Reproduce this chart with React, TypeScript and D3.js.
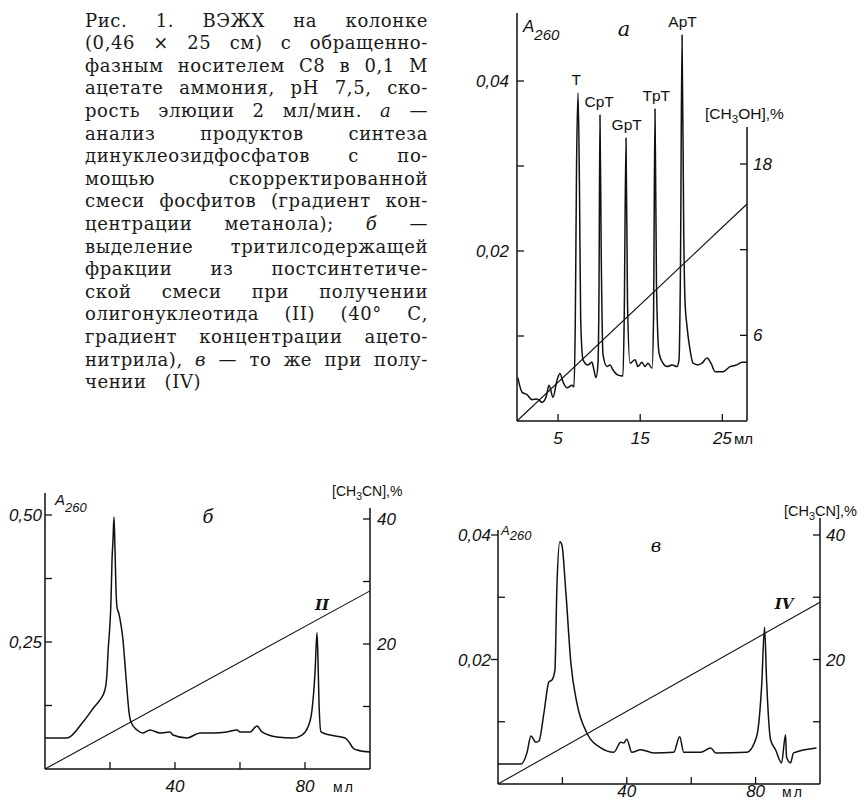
import React, { useEffect, useRef } from 'react';
import * as d3 from 'd3';

type P = [number, number];

// ---------------- caption ----------------
const captionLines: string[] = [
  'Рис. 1. ВЭЖХ на колонке',
  '(0,46 × 25 см) с обращенно-',
  'фазным носителем С8 в 0,1 М',
  'ацетате аммония, pH 7,5, ско-',
  'рость элюции 2 мл/мин. _а —',
  'анализ продуктов синтеза',
  'динуклеозидфосфатов с по-',
  'мощью скорректированной',
  'смеси фосфитов (градиент кон-',
  'центрации метанола); _б —',
  'выделение тритилсодержащей',
  'фракции из постсинтетиче-',
  'ской смеси при получении',
  'олигонуклеотида (II) (40° С,',
  'градиент концентрации ацето-',
  'нитрила), _в — то же при полу-',
  'чении (IV)',
];

// ---------------- chart а ----------------
const traceA: P[] = [
  [0.1, 0.0051], [0.61, 0.0034], [1.22, 0.0031], [1.83, 0.0025], [2.43, 0.0026], [3.04, 0.0022],
  [3.53, 0.0028], [3.9, 0.0042], [4.38, 0.0028], [4.87, 0.0048], [5.23, 0.0056], [5.6, 0.0046],
  [6.09, 0.0039], [6.7, 0.0042], [6.94, 0.004],
  [7.1, 0.012], [7.25, 0.03], [7.43, 0.0386], [7.6, 0.028], [7.75, 0.012], [8.04, 0.0072],
  [8.64, 0.0066], [9.13, 0.0069], [9.37, 0.006], [9.62, 0.0051], [9.86, 0.0068],
  [9.98, 0.015], [10.1, 0.036], [10.25, 0.02], [10.47, 0.0078],
  [10.96, 0.0064], [11.32, 0.0066], [11.69, 0.006], [12.3, 0.0054], [12.9, 0.0053],
  [13.05, 0.012], [13.27, 0.0333], [13.45, 0.014], [13.76, 0.0068],
  [14.37, 0.0072], [14.73, 0.0064], [15.22, 0.0069], [15.58, 0.0064], [15.95, 0.0068], [16.44, 0.0062],
  [16.62, 0.012], [16.8, 0.0367], [16.98, 0.016], [17.29, 0.008],
  [17.77, 0.0068], [18.26, 0.0064], [18.87, 0.0066], [19.48, 0.0064], [19.72, 0.0072],
  [19.9, 0.018], [20.09, 0.0454], [20.3, 0.022], [20.45, 0.0142], [20.7, 0.0111], [21.06, 0.0084],
  [21.43, 0.0068], [22.04, 0.0066], [22.52, 0.0068], [23.13, 0.0074], [23.62, 0.0068], [24.11, 0.0058],
  [25.08, 0.0058], [25.93, 0.0064], [26.78, 0.0066], [27.39, 0.0069], [28.0, 0.0069],
];
const gradientA: P[] = [[0, 0], [28, 15.2]];
const peakNamesA = ['T', 'CpT', 'GpT', 'TpT', 'ApT'];
const peakMlA = [7.2, 10.0, 13.35, 16.95, 20.15];
const peakHeightA = [0.0386, 0.036, 0.0333, 0.0367, 0.0454];
const xTicksA = [5, 15, 25];
const yTicksA = [0.01, 0.02, 0.03, 0.04];
const yLabelsA = [0.02, 0.04];
const y2TicksA = [6, 12, 18];
const y2LabelsA = [6, 18];

// ---------------- chart б ----------------
const traceB: P[] = [
  [0, 0.061], [6.77, 0.061], [11.69, 0.0925], [15.38, 0.124], [16.92, 0.136], [18.46, 0.156],
  [19.08, 0.189], [19.38, 0.228], [20.31, 0.333], [20.62, 0.411], [20.92, 0.451], [21.23, 0.496],
  [21.54, 0.431], [21.85, 0.352], [22.15, 0.319], [22.77, 0.305], [23.38, 0.284], [24.0, 0.254],
  [24.62, 0.205], [25.23, 0.156], [25.85, 0.112], [26.46, 0.0925], [28.31, 0.0768], [30.15, 0.0709],
  [32.31, 0.0768], [35.38, 0.0709], [38.46, 0.0729], [39.38, 0.0669], [43.69, 0.061], [47.69, 0.0709],
  [51.69, 0.0709], [56.0, 0.0729], [59.08, 0.0768], [60.0, 0.0729], [63.08, 0.0729], [65.23, 0.0847],
  [66.77, 0.0729], [71.38, 0.063], [76.31, 0.061], [79.08, 0.0669], [80.92, 0.0827], [82.15, 0.116],
  [83.08, 0.189], [83.69, 0.268], [84.0, 0.215], [84.31, 0.13], [84.92, 0.0729], [87.69, 0.0669],
  [92.31, 0.061], [93.54, 0.0532], [94.77, 0.0413], [96.0, 0.0374], [100, 0.0335],
];
const gradientB: P[] = [[0, 0], [100, 28.5]];
const xTicksB = [20, 40, 60, 80];
const xLabelsB = [40, 80];
const yTicksB = [0.125, 0.25, 0.375, 0.5];
const yLabelsB = [0.25, 0.5];
const y2TicksB = [10, 20, 30, 40];
const y2LabelsB = [20, 40];

// ---------------- chart в ----------------
const traceV: P[] = [
  [0, 0.0032], [7.13, 0.0032], [8.99, 0.005], [10.23, 0.0077], [11.78, 0.0067], [12.71, 0.0069],
  [14.26, 0.0114], [15.81, 0.0164], [16.74, 0.0167], [17.67, 0.0183], [18.29, 0.0316], [19.22, 0.0389],
  [19.84, 0.0384], [21.09, 0.0307], [22.64, 0.0194], [24.5, 0.013], [27.6, 0.0082], [31.94, 0.0058],
  [35.97, 0.0051], [38.14, 0.0067], [39.07, 0.0066], [40.0, 0.0072], [41.55, 0.0051], [44.34, 0.0055],
  [48.37, 0.005], [54.57, 0.0051], [56.43, 0.0076], [57.67, 0.0051], [62.95, 0.0051], [66.05, 0.0058],
  [67.6, 0.005], [77.21, 0.0051], [80.31, 0.0076], [81.86, 0.0156], [82.79, 0.0252], [83.41, 0.0167],
  [84.65, 0.0071], [86.2, 0.0055], [88.06, 0.0034], [89.3, 0.0079], [89.61, 0.0043], [90.85, 0.0034],
  [91.78, 0.005], [98.91, 0.0058],
];
const gradientV: P[] = [[0, 0], [100, 29.2]];
const xTicksV = [20, 40, 60, 80];
const xLabelsV = [40, 80];
const yTicksV = [0.01, 0.02, 0.03, 0.04];
const yLabelsV = [0.02, 0.04];
const y2TicksV = [10, 20, 30, 40];
const y2LabelsV = [20, 40];

const fmt = (v: number) => d3.format('.2f')(v).replace('.', ',');
const NUM_FONT = "'Liberation Sans', Arial, sans-serif";
const SERIF = "'DejaVu Serif', serif";

interface FrameProps {
  x: d3.ScaleLinear<number, number>;
  y: d3.ScaleLinear<number, number>;
  y2: d3.ScaleLinear<number, number>;
  yTop: number;
  y2Top: number;
  xTicks: number[];
  xLabels: number[];
  yTicks: number[];
  yLabels: number[];
  y2Ticks: number[];
  y2Labels: number[];
  trace: P[];
  gradient: P[];
  yLabelGap: number;
  y2LabelGap: number;
  xLabelBase: number;
  leftTickOut?: boolean;
}

function Frame(p: FrameProps) {
  const [x0, x1] = p.x.range();
  const yb = p.y.range()[0];
  const line = d3.line<P>().x(d => p.x(d[0])).y(d => p.y(d[1])).curve(d3.curveMonotoneX);
  const gline = d3.line<P>().x(d => p.x(d[0])).y(d => p.y2(d[1]));
  const T = 7;
  return (
    <g fill="none" stroke="#111">
      <line x1={x0} x2={x0} y1={yb} y2={p.yTop} strokeWidth={1.5} />
      <line x1={x1} x2={x1} y1={yb} y2={p.y2Top} strokeWidth={1.5} />
      <line x1={x0} x2={x1} y1={yb} y2={yb} strokeWidth={1.5} />
      {p.yTicks.map(v => {
        const out = p.leftTickOut && p.yLabels.includes(v);
        return <line key={'yt' + v} x1={x0} x2={out ? x0 - T : x0 + T} y1={p.y(v)} y2={p.y(v)} strokeWidth={1.3} />;
      })}
      {p.y2Ticks.map(v => (
        <line key={'y2t' + v} x1={x1} x2={x1 - T} y1={p.y2(v)} y2={p.y2(v)} strokeWidth={1.3} />
      ))}
      {p.xTicks.map(v => (
        <line key={'xt' + v} x1={p.x(v)} x2={p.x(v)} y1={yb} y2={yb - T} strokeWidth={1.3} />
      ))}
      <path d={gline(p.gradient) || ''} strokeWidth={1.1} />
      <path d={line(p.trace) || ''} strokeWidth={1.5} strokeLinejoin="round" />
      <g stroke="none" fill="#111" fontFamily={NUM_FONT} fontStyle="italic" fontSize={17}>
        {p.yLabels.map(v => (
          <text key={'yl' + v} x={x0 - p.yLabelGap} y={p.y(v) + 6} textAnchor="end">{fmt(v)}</text>
        ))}
        {p.y2Labels.map(v => (
          <text key={'y2l' + v} x={x1 + p.y2LabelGap} y={p.y2(v) + 6}>{v}</text>
        ))}
        {p.xLabels.map(v => (
          <text key={'xl' + v} x={p.x(v)} y={p.xLabelBase} textAnchor="middle">{v}</text>
        ))}
      </g>
    </g>
  );
}

function A260({ x, y, fa, fs, dy }: { x: number; y: number; fa: number; fs: number; dy: number }) {
  return (
    <text x={x} y={y} fontFamily={NUM_FONT} fontStyle="italic" fontSize={fa} fill="#111">
      A<tspan dy={dy} fontSize={fs}>260</tspan>
    </text>
  );
}

function Conc({ x, y, mid, fs }: { x: number; y: number; mid: string; fs: number }) {
  return (
    <text x={x} y={y} fontFamily={NUM_FONT} fontSize={fs} fill="#111">
      [CH<tspan dy={4} fontSize={fs * 0.75}>3</tspan><tspan dy={-4}>{mid}],%</tspan>
    </text>
  );
}

export default function App() {
  const capRef = useRef<SVGGElement>(null);

  const xA = d3.scaleLinear().domain([0, 28]).range([517, 747]);
  const yA = d3.scaleLinear().domain([0, 0.04]).range([421, 81]);
  const y2A = d3.scaleLinear().domain([0, 18]).range([421, 164]);
  const xB = d3.scaleLinear().domain([0, 100]).range([45, 370]);
  const yB = d3.scaleLinear().domain([0, 0.5]).range([769, 515]);
  const y2B = d3.scaleLinear().domain([0, 40]).range([769, 519]);
  const xV = d3.scaleLinear().domain([0, 100]).range([498, 820]);
  const yV = d3.scaleLinear().domain([0, 0.04]).range([784, 535]);
  const y2V = d3.scaleLinear().domain([0, 40]).range([784, 535]);

  useEffect(() => {
    const g = d3.select(capRef.current);
    g.selectAll('*').remove();
    const left = 85;
    const right = 428;
    const base0 = 26.5;
    const step = 22.6;
    captionLines.forEach((ln, i) => {
      const y = base0 + i * step;
      const words = ln.split(' ');
      const nodes = words.map(w => {
        const it = w.startsWith('_');
        return g
          .append('text')
          .attr('y', y)
          .attr('font-style', it ? 'italic' : 'normal')
          .text(it ? w.slice(1) : w);
      });
      const widths = nodes.map(n => (n.node() as SVGTextElement).getComputedTextLength());
      const total = d3.sum(widths);
      const last = i === captionLines.length - 1;
      let gap = last ? 18 : (right - left - total) / Math.max(1, words.length - 1);
      let scale = 1;
      if (gap < 6) {
        gap = 6;
        scale = (right - left - gap * (words.length - 1)) / total;
      }
      let xx = left;
      nodes.forEach((n, k) => {
        n.attr('x', xx);
        if (scale !== 1) n.attr('textLength', widths[k] * scale).attr('lengthAdjust', 'spacingAndGlyphs');
        xx += widths[k] * scale + gap;
      });
    });
  }, []);

  return (
    <svg width={868} height={802} style={{ position: 'absolute', left: 0, top: 0, background: '#fff' }}>
      <rect width={868} height={802} fill="#fff" />
      <g ref={capRef} fontFamily={SERIF} fontSize={18} letterSpacing={0.6} fill="#1a1a1a" />

      {/* chart а */}
      <Frame x={xA} y={yA} y2={y2A} yTop={13} y2Top={127}
        xTicks={xTicksA} xLabels={xTicksA} yTicks={yTicksA} yLabels={yLabelsA}
        y2Ticks={y2TicksA} y2Labels={y2LabelsA} trace={traceA} gradient={gradientA}
        yLabelGap={8} y2LabelGap={6} xLabelBase={444} />
      <g fontFamily={NUM_FONT} fontSize={15.5} fill="#111" textAnchor="middle">
        {peakNamesA.map((n, i) => (
          <text key={n} x={xA(peakMlA[i])} y={yA(peakHeightA[i]) - 8}>{n}</text>
        ))}
      </g>
      <A260 x={523} y={32} fa={17} fs={15} dy={8} />
      <text x={624} y={36} fontFamily={SERIF} fontStyle="italic" fontSize={21} textAnchor="middle" fill="#111">а</text>
      <Conc x={705} y={119} mid="OH" fs={15.5} />
      <text x={734} y={444} fontFamily={NUM_FONT} fontSize={15} fill="#111">мл</text>

      {/* chart б */}
      <Frame x={xB} y={yB} y2={y2B} yTop={493} y2Top={508}
        xTicks={xTicksB} xLabels={xLabelsB} yTicks={yTicksB} yLabels={yLabelsB}
        y2Ticks={y2TicksB} y2Labels={y2LabelsB} trace={traceB} gradient={gradientB}
        yLabelGap={3} y2LabelGap={7} xLabelBase={792} />
      <A260 x={55} y={505} fa={15} fs={13} dy={7} />
      <text x={208} y={523} fontFamily={SERIF} fontStyle="italic" fontSize={18} textAnchor="middle" fill="#111">б</text>
      <text x={322} y={610} fontFamily={SERIF} fontStyle="italic" fontWeight="bold" fontSize={15} textAnchor="middle" fill="#111">II</text>
      <Conc x={332} y={496} mid="CN" fs={14} />
      <text x={333} y={792} fontFamily={NUM_FONT} fontSize={14} letterSpacing={2} fill="#111">мл</text>

      {/* chart в */}
      <Frame x={xV} y={yV} y2={y2V} yTop={530} y2Top={518}
        xTicks={xTicksV} xLabels={xLabelsV} yTicks={yTicksV} yLabels={yLabelsV}
        y2Ticks={y2TicksV} y2Labels={y2LabelsV} trace={traceV} gradient={gradientV}
        yLabelGap={7} y2LabelGap={6} xLabelBase={797} leftTickOut />
      <A260 x={501} y={535} fa={13} fs={13} dy={5} />
      <text x={656} y={552} fontFamily={SERIF} fontStyle="italic" fontSize={18} textAnchor="middle" fill="#111">в</text>
      <text x={784} y={609} fontFamily={SERIF} fontStyle="italic" fontWeight="bold" fontSize={15} textAnchor="middle" fill="#111">IV</text>
      <Conc x={784} y={516} mid="CN" fs={14.5} />
      <text x={782} y={797} fontFamily={NUM_FONT} fontSize={14} letterSpacing={2} fill="#111">мл</text>
    </svg>
  );
}
